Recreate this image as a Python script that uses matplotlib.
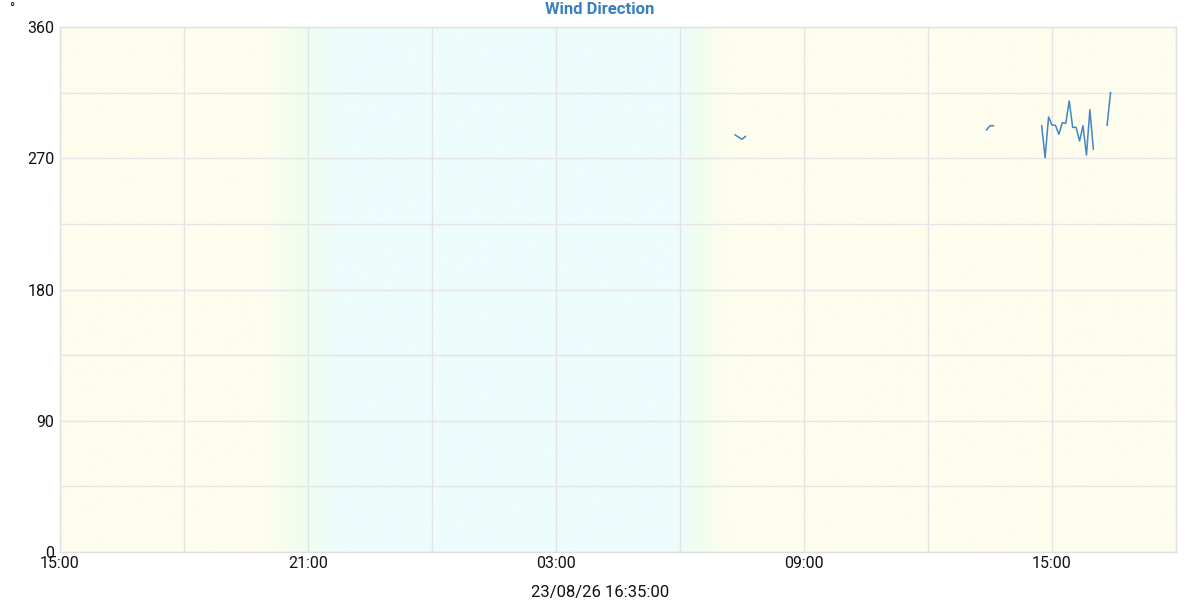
import numpy as np
import matplotlib
matplotlib.use("Agg")
import matplotlib.pyplot as plt
import matplotlib.dates as mdates
from datetime import datetime, timedelta

plt.rcParams['font.family'] = ['Roboto', 'DejaVu Sans']

# ---- data ----
times = ["2023-08-26 07:20", "2023-08-26 07:25", "2023-08-26 07:30", "2023-08-26 07:35", None,
         "2023-08-26 13:25", "2023-08-26 13:30", "2023-08-26 13:35", None,
         "2023-08-26 14:45", "2023-08-26 14:50", "2023-08-26 14:55", "2023-08-26 15:00",
         "2023-08-26 15:05", "2023-08-26 15:10", "2023-08-26 15:15", "2023-08-26 15:20",
         "2023-08-26 15:25", "2023-08-26 15:30", "2023-08-26 15:35", "2023-08-26 15:40",
         "2023-08-26 15:45", "2023-08-26 15:50", "2023-08-26 15:55", "2023-08-26 16:00", None,
         "2023-08-26 16:20", "2023-08-26 16:25"]
wind_dir = [286, 284.5, 283, 285, None,
            289.5, 292.3, 292.3, None,
            292.3, 270.4, 298.3, 292.8, 292.6, 286.4, 294.4, 293.9,
            309.3, 291.2, 291.2, 281.8, 292.3, 272.2, 303.3, 276.3, None,
            292.6, 315]
y_ticks = [0, 90, 180, 270, 360]
x_tick_labels = ["15:00", "21:00", "03:00", "09:00", "15:00"]
title = "Wind Direction"
x_title = "23/08/26 16:35:00"
y_unit = "°"

start = datetime(2023, 8, 25, 15, 0)
end = datetime(2023, 8, 26, 18, 0)
sunset = (datetime(2023, 8, 25, 19, 55), datetime(2023, 8, 25, 20, 48), datetime(2023, 8, 25, 21, 40))
sunrise = (datetime(2023, 8, 26, 6, 0), datetime(2023, 8, 26, 6, 30), datetime(2023, 8, 26, 7, 10))

# build plotting arrays (None -> gap)
xs = []
ys = []
for t, v in zip(times, wind_dir):
    if t is None:
        xs.append(np.nan)
        ys.append(np.nan)
    else:
        xs.append(mdates.date2num(datetime.strptime(t, "%Y-%m-%d %H:%M")))
        ys.append(v)
xs = np.array(xs, dtype=float)
ys = np.array(ys, dtype=float)

fig = plt.figure(figsize=(12, 6), dpi=100)
ax = fig.add_axes([0.05, 0.08, 0.93, 0.875])

x0, x1 = mdates.date2num(start), mdates.date2num(end)

# background day/night gradient
day = np.array([254, 253, 238]) / 255
twi = np.array([240, 254, 238]) / 255
night = np.array([237, 252, 252]) / 255
ncol = 2000
cx = np.linspace(x0, x1, ncol)
ss = [mdates.date2num(d) for d in sunset]
sr = [mdates.date2num(d) for d in sunrise]
cols = np.zeros((ncol, 3))
for i, c in enumerate(cx):
    if c < ss[0] or c > sr[2]:
        cols[i] = day
    elif c < ss[1]:
        f = (c - ss[0]) / (ss[1] - ss[0]); cols[i] = day * (1 - f) + twi * f
    elif c < ss[2]:
        f = (c - ss[1]) / (ss[2] - ss[1]); cols[i] = twi * (1 - f) + night * f
    elif c < sr[0]:
        cols[i] = night
    elif c < sr[1]:
        f = (c - sr[0]) / (sr[1] - sr[0]); cols[i] = night * (1 - f) + twi * f
    else:
        f = (c - sr[1]) / (sr[2] - sr[1]); cols[i] = twi * (1 - f) + day * f
ax.imshow(cols[np.newaxis, :, :], extent=[x0, x1, 0, 360], aspect='auto', zorder=0,
          interpolation='bilinear')

ax.plot(xs, ys, color='#4585c2', linewidth=1.1, zorder=3)

ax.set_xlim(x0, x1)
ax.set_ylim(0, 360)

# grid
ax.set_yticks(np.arange(0, 361, 45), minor=True)
ax.set_yticks(y_ticks)
ax.set_yticklabels([str(v) for v in y_ticks])
xt_major = [start + timedelta(hours=6 * i) for i in range(5)]
xt_minor = [start + timedelta(hours=3 * i) for i in range(10)]
ax.set_xticks([mdates.date2num(d) for d in xt_minor], minor=True)
ax.set_xticks([mdates.date2num(d) for d in xt_major])
ax.set_xticklabels(x_tick_labels)
ax.grid(which='both', color='#e4e4e4', linewidth=1.0, zorder=1)
for gl in ax.get_xgridlines() + ax.get_ygridlines():
    gl.set_zorder(1)
ax.tick_params(which='both', length=0, labelsize=11.5, colors='#111111')
ax.tick_params(axis='y', pad=4)
ax.tick_params(axis='x', pad=3)
for s in ax.spines.values():
    s.set_color('#e0e0e0')
    s.set_linewidth(1.0)

fig.text(0.5, 0.985, title, ha='center', va='center', color='#3a7ebf',
         fontsize=12, fontweight='bold')
fig.text(0.5, 0.012, x_title, ha='center', va='center', fontsize=12, color='#111111')
fig.text(0.01, 0.995, y_unit, ha='center', va='top', fontsize=10, color='#111111')

fig.savefig("out.png", dpi=100)
